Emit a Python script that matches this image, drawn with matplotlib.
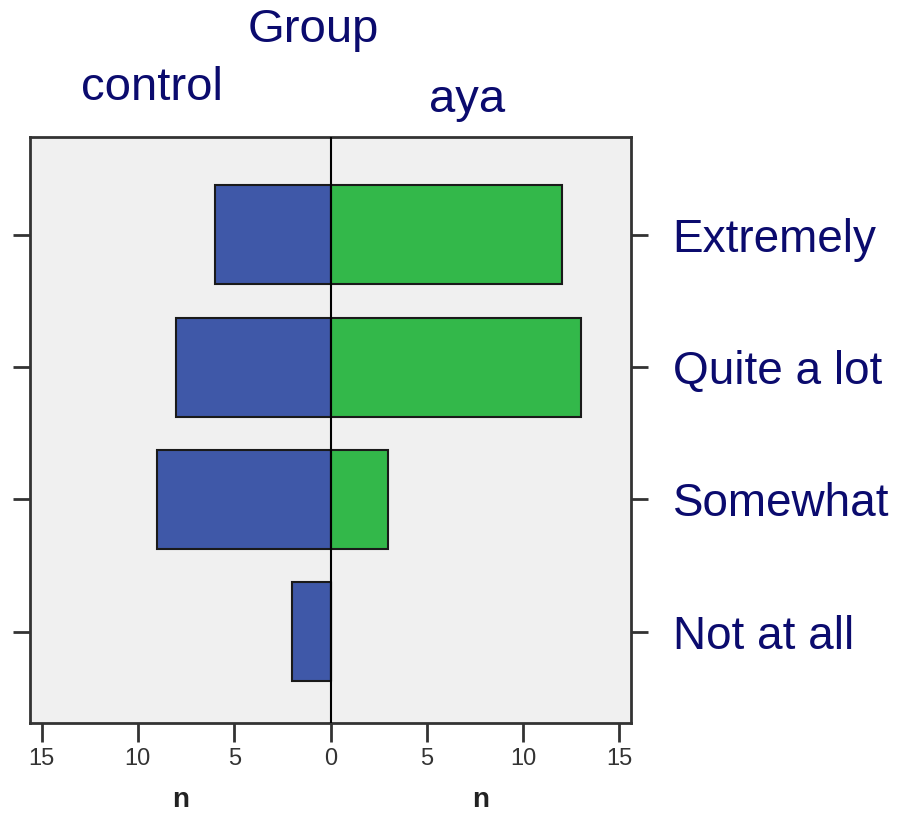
import matplotlib
matplotlib.use("Agg")
import matplotlib.pyplot as plt
import numpy as np

categories = ["Not at all", "Somewhat", "Quite a lot", "Extremely"]
control = [2, 9, 8, 6]
aya = [0, 3, 13, 12]
xticks = [-15, -10, -5, 0, 5, 10, 15]
xticklabels = ["15", "10", "5", "0", "5", "10", "15"]

plt.rcParams['font.family'] = ['Liberation Sans', 'DejaVu Sans']
W, H = 901, 835
fig = plt.figure(figsize=(W/100, H/100), dpi=100)
ax = fig.add_axes([30/W, 1-723/H, (631-30)/W, (723-137)/H])
ax.set_facecolor('#F0F0F0')

y = np.arange(len(categories))
ax.barh(y, -np.array(control), height=0.75, color='#3F58A8', edgecolor='#1a1a1a', linewidth=1.5, zorder=2)
ax.barh(y, aya, height=0.75, color='#33B84A', edgecolor='#1a1a1a', linewidth=1.5, zorder=2)
ax.axvline(0, color='black', linewidth=1.5, zorder=3)

ax.set_xlim(-15.6, 15.6)
ax.set_ylim(-0.69, 3.74)
ax.set_xticks(xticks)
ax.set_xticklabels(xticklabels)
ax.set_yticks(y)
ax.set_yticklabels(categories)

for s in ax.spines.values():
    s.set_color('#333333')
    s.set_linewidth(2)

navy = '#0B0B6E'
ax.tick_params(axis='y', left=True, right=True, labelleft=False, labelright=True,
               direction='out', length=12, width=2, color='#333333', pad=18,
               labelsize=33, labelcolor=navy)
ax.tick_params(axis='x', direction='out', length=14, width=2, color='#333333',
               pad=4, labelsize=17, labelcolor='#333333')

fig.text(313/W, 1-30/H, "Group", ha='center', va='center', fontsize=34, color=navy)
fig.text(152/W, 1-88/H, "control", ha='center', va='center', fontsize=34, color=navy)
fig.text(467/W, 1-100/H, "aya", ha='center', va='center', fontsize=34, color=navy)
fig.text(181/W, 1-800/H, "n", ha='center', va='center', fontsize=20, fontweight='bold', color='#222222')
fig.text(481/W, 1-800/H, "n", ha='center', va='center', fontsize=20, fontweight='bold', color='#222222')

fig.savefig("out.png", dpi=100)
